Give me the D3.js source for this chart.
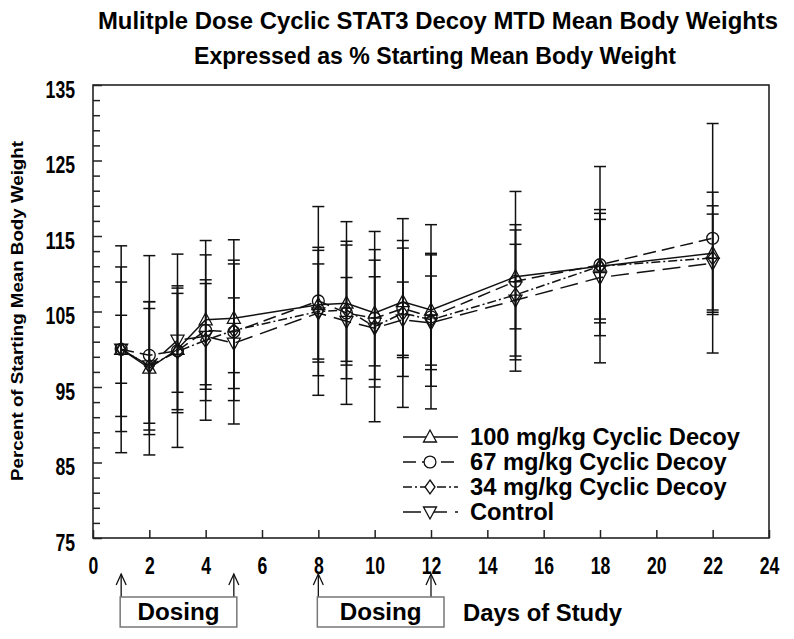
<!DOCTYPE html>
<html><head><meta charset="utf-8">
<script src="https://cdn.jsdelivr.net/npm/d3@7/dist/d3.min.js"></script>
<style>body{margin:0;background:#fff} svg{display:block}</style>
</head><body><svg id="c" width="794" height="639"></svg>
<script>
const days = [1,2,3,4,5,8,9,10,11,12,15,18,22];
const mean100 = [100, 97.5, 100.0, 103.9, 104.1, 105.9, 106.1, 104.8, 106.3, 105.2, 109.6, 111.0, 112.7];
const sd100   = [8.9, 8.8, 8.4, 8.6, 7.2, 7.2, 7.7, 7.0, 7.1, 7.3, 6.9, 7.0, 8.1];
const mean67  = [100, 99.2, 99.8, 102.5, 102.3, 106.4, 104.8, 104.1, 105.4, 104.3, 109.0, 111.2, 114.7];
const sd67    = [13.7, 13.2, 12.8, 11.9, 12.2, 12.5, 12.1, 9.1, 9.0, 12.2, 11.9, 13.0, 15.2];
const mean34  = [100, 97.8, 99.7, 101.2, 102.5, 105.0, 105.2, 103.0, 104.8, 103.9, 107.2, 111.0, 112.1];
const sd34    = [10.9, 7.6, 7.7, 8.0, 9.3, 8.5, 9.1, 12.6, 12.5, 8.8, 8.6, 7.5, 6.9];
const meanCtl = [100, 97.8, 101.2, 101.7, 100.8, 104.8, 103.7, 102.8, 103.9, 103.5, 106.5, 109.5, 111.4];
const sdCtl   = [4.5, 8.5, 6.9, 7.0, 6.0, 6.5, 5.8, 6.8, 5.0, 6.2, 7.4, 7.7, 6.5];
const seriesNames = ["100 mg/kg Cyclic Decoy","67 mg/kg Cyclic Decoy","34 mg/kg Cyclic Decoy","Control"];
const yTickLabels = [75,85,95,105,115,125,135];
const xTickLabels = [0,2,4,6,8,10,12,14,16,18,20,22,24];
const dosingPeriods = [[1,5],[8,12]];
const titleLines = ["Mulitple Dose Cyclic STAT3 Decoy MTD Mean Body Weights","Expressed as % Starting Mean Body Weight"];

const svg = d3.select("#c");
const x = d3.scaleLinear().domain([0,24]).range([93,769]);
const y = d3.scaleLinear().domain([75,135]).range([538,85]);
const SANS = "'Liberation Sans',Arial,sans-serif";
const DIGIT_W = 9.8;

// titles
svg.append("text").attr("x",438).attr("y",29).attr("text-anchor","middle")
  .attr("font-family",SANS).attr("font-weight","bold").attr("font-size",24)
  .attr("textLength",680).attr("lengthAdjust","spacingAndGlyphs").text(titleLines[0]);
svg.append("text").attr("x",435).attr("y",64).attr("text-anchor","middle")
  .attr("font-family",SANS).attr("font-weight","bold").attr("font-size",24)
  .attr("textLength",482).attr("lengthAdjust","spacingAndGlyphs").text(titleLines[1]);

// frame
svg.append("rect").attr("x",x(0)).attr("y",y(135)).attr("width",x(24)-x(0)).attr("height",y(75)-y(135))
  .attr("fill","none").attr("stroke","#222").attr("stroke-width",1.6);

function narrowDigits(sel){
  sel.attr("font-family",SANS).attr("font-weight","bold").attr("font-size",24).attr("fill","#000")
    .attr("lengthAdjust","spacingAndGlyphs").attr("textLength",function(){return this.textContent.length*DIGIT_W;});
}
// y axis ticks
const yMinor = d3.range(77,135,2).filter(v=>!yTickLabels.includes(v));
svg.append("g").attr("transform",`translate(${x(0)},0)`)
  .call(d3.axisLeft(y).tickValues(yMinor).tickSize(-7).tickFormat(""))
  .call(g=>{g.select(".domain").remove(); g.selectAll("line").attr("stroke","#222").attr("stroke-width",1.5);});
svg.append("g").attr("transform",`translate(${x(0)},0)`)
  .call(d3.axisLeft(y).tickValues(yTickLabels).tickSize(-9).tickPadding(18).tickFormat(d3.format("d")))
  .call(g=>{g.select(".domain").remove(); g.selectAll("line").attr("stroke","#222").attr("stroke-width",1.5);
    g.selectAll("text").call(narrowDigits).attr("dy","0.5em");});

// x axis
svg.append("g").attr("transform",`translate(0,${y(75)})`)
  .call(d3.axisBottom(x).tickValues(xTickLabels).tickSize(-8).tickPadding(24).tickFormat(d3.format("d")))
  .call(g=>{g.select(".domain").remove(); g.selectAll("line").attr("stroke","#222").attr("stroke-width",1.5);
    g.selectAll("text").call(narrowDigits).attr("dy","0.5em");});

// y title
svg.append("text").attr("transform","translate(23,311) rotate(-90)").attr("text-anchor","middle")
  .attr("font-family",SANS).attr("font-weight","bold").attr("font-size",16)
  .attr("textLength",340).attr("lengthAdjust","spacingAndGlyphs").text("Percent of Starting Mean Body Weight");

// series
const series = [
  {name:seriesNames[0], mean:mean100, sd:sd100, dash:null, sym:"up"},
  {name:seriesNames[1], mean:mean67, sd:sd67, dash:"13,6", sym:"circle"},
  {name:seriesNames[2], mean:mean34, sd:sd34, dash:"9,3,2,3", sym:"diamond"},
  {name:seriesNames[3], mean:meanCtl, sd:sdCtl, dash:"18,8", sym:"down"}
];
function symPath(sym){
  if(sym==="up") return "M0,-7L6.5,5L-6.5,5Z";
  if(sym==="down") return "M0,7L6.5,-5L-6.5,-5Z";
  if(sym==="diamond") return "M0,-7L5,0L0,7L-5,0Z";
  return d3.symbol(d3.symbolCircle, 110)();
}
const plot = svg.append("g");
series.forEach(s=>{
  const g = plot.append("g").attr("stroke","#111").attr("stroke-width",1.5);
  days.forEach((d,i)=>{
    const lo = s.mean[i]-s.sd[i], hi = s.mean[i]+s.sd[i];
    g.append("line").attr("x1",x(d)).attr("x2",x(d)).attr("y1",y(lo)).attr("y2",y(hi));
    g.append("line").attr("x1",x(d)-6).attr("x2",x(d)+6).attr("y1",y(lo)).attr("y2",y(lo));
    g.append("line").attr("x1",x(d)-6).attr("x2",x(d)+6).attr("y1",y(hi)).attr("y2",y(hi));
  });
});
const line = d3.line().x((d,i)=>x(days[i])).y(d=>y(d));
series.forEach(s=>{
  plot.append("path").attr("d",line(s.mean)).attr("fill","none").attr("stroke","#111").attr("stroke-width",1.5)
    .attr("stroke-dasharray",s.dash);
});
series.forEach(s=>{
  plot.selectAll(null).data(s.mean).enter().append("path")
    .attr("transform",(d,i)=>`translate(${x(days[i])},${y(d)})`)
    .attr("d",symPath(s.sym)).attr("fill","none").attr("stroke","#111").attr("stroke-width",1.3);
});

// legend
const lg = svg.append("g");
series.forEach((s,i)=>{
  const cy = 437 + i*25;
  lg.append("line").attr("x1",403).attr("x2",458).attr("y1",cy).attr("y2",cy).attr("stroke","#111").attr("stroke-width",1.5)
    .attr("stroke-dasharray",s.dash);
  lg.append("path").attr("transform",`translate(430,${cy})`).attr("d",symPath(s.sym)).attr("fill","#fff").attr("stroke","#111").attr("stroke-width",1.3);
  lg.append("text").attr("x",470).attr("y",cy+8).attr("font-family",SANS).attr("font-weight","bold").attr("font-size",23.7).text(s.name);
});

// dosing arrows and boxes
const boxRightPad = [3, 13];
dosingPeriods.forEach((p,k)=>{
  p.forEach(d=>{
    const ax = x(d);
    svg.append("line").attr("x1",ax).attr("x2",ax).attr("y1",597).attr("y2",574).attr("stroke","#111").attr("stroke-width",1.3);
    svg.append("path").attr("d",`M${ax-5},${585}L${ax},${574}L${ax+5},${585}`).attr("fill","none").attr("stroke","#111").attr("stroke-width",1.3);
  });
  const bx0 = x(p[0]) - 1, bx1 = x(p[1]) + boxRightPad[k];
  svg.append("rect").attr("x",bx0).attr("y",597).attr("width",bx1-bx0).attr("height",30)
    .attr("fill","none").attr("stroke","#777").attr("stroke-width",1.5);
  svg.append("text").attr("x",(bx0+bx1)/2).attr("y",620).attr("text-anchor","middle")
    .attr("font-family",SANS).attr("font-weight","bold").attr("font-size",23)
    .attr("textLength",82).attr("lengthAdjust","spacingAndGlyphs").text("Dosing");
});
svg.append("text").attr("x",463).attr("y",621).attr("font-family",SANS).attr("font-weight","bold").attr("font-size",23)
  .attr("textLength",159).attr("lengthAdjust","spacingAndGlyphs").text("Days of Study");
</script></body></html>
